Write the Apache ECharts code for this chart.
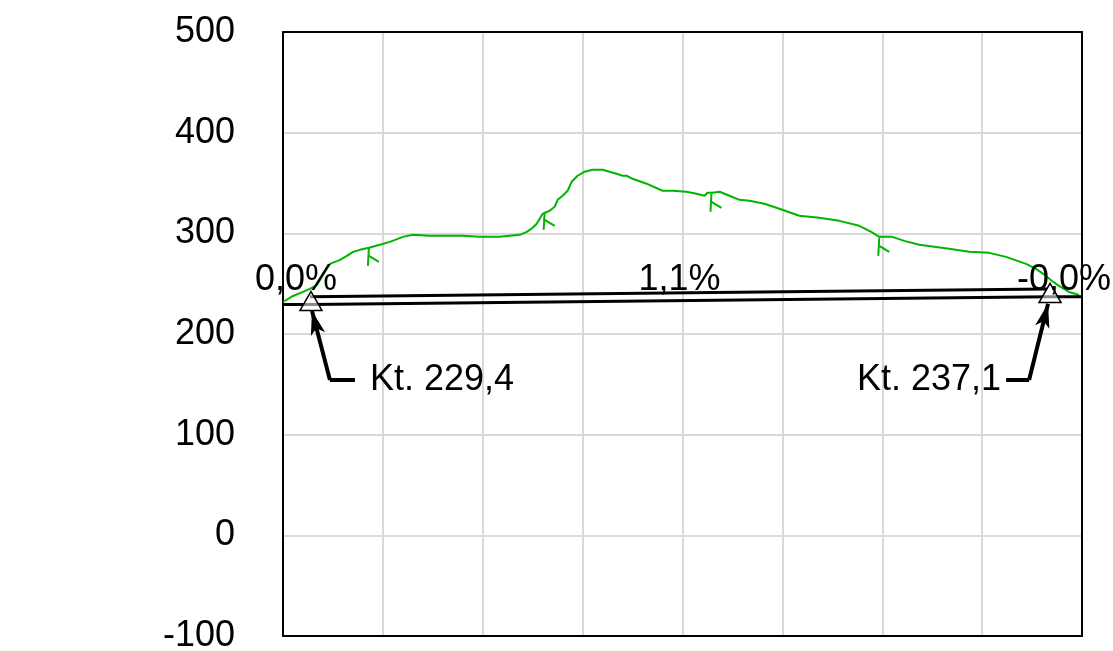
<!DOCTYPE html>
<html>
<head>
<meta charset="utf-8">
<script src="https://cdn.jsdelivr.net/npm/echarts@6/dist/echarts.min.js"></script>
<style>
html,body{margin:0;padding:0;background:#fff;}
#chart{width:1113px;height:651px;}
</style>
</head>
<body>
<div id="chart"></div>
<script>
// ---- data ----
const yTicks = [-100, 0, 100, 200, 300, 400, 500];
const terrain = [
  [0,231.8],[10,237.8],[20,241.8],[27,244.8],[34,248.8],[47,269.7],[57,273.6],[64,277.6],
  [70,281.6],[77,283.6],[86,285.6],[97,288.6],[107,291.5],[120,296.5],[130,298.5],[147,297.5],
  [164,297.5],[180,297.5],[197,296.5],[210,296.5],[217,296.5],[227,297.5],[237,298.5],[244,301.5],
  [250,305.5],[254,309.5],[260,319.4],[267,322.4],[272,326.4],[275,333.3],[280,337.3],[285,342.3],
  [289,351.2],[295,357.2],[302,361.2],[310,363.2],[320,363.2],[327,361.2],[334,359.2],[340,357.2],
  [344,357.2],[350,354.2],[364,349.3],[380,342.3],[390,342.3],[404,341.3],[414,339.3],[422,337.3],
  [425,340.3],[430,340.3],[437,341.3],[447,337.3],[457,333.3],[467,332.3],[482,329.4],[497,324.4],
  [517,317.4],[537,315.4],[557,312.4],[577,307.5],[589,301.5],[597,296.5],[610,296.5],[622,292.5],
  [637,288.6],[667,284.6],[687,281.6],[707,280.6],[724,276.6],[744,269.7],[754,264.7],[764,257.7],
  [770,252.7],[777,247.8],[787,241.8],[797,238.8]
];
const treeMarks = [[86,285.6],[262,321.4],[429,339.3],[597,295.5]];
const roadLower = [[0,229.4],[28,229.4],[768,237.1],[800,237.1]];
const roadUpper = [[27,237.0],[765,244.6]];
const stations = [[28,232.8],[768,240.8]];
const gradeLabels = ['0,0%', '1,1%', '-0,0%'];
const gradeLabelPos = [[13,254],[397,254],[782,254]];
const levelLabels = ['Kt. 229,4', 'Kt. 237,1'];
const leftArrow = [[72,154.2],[47,154.2],[29,223]];
const rightArrow = [[724,154.2],[747,154.2],[766,230]];

const GREEN = '#00b400';
const FONT = 'Liberation Sans, Arial, sans-serif';

function arrowLines(pts){
  return [
    [{coord: pts[0], symbol:'none'}, {coord: pts[1], symbol:'none'}],
    [{coord: pts[1], symbol:'none'}, {coord: pts[2], symbol:'arrow', symbolSize:[11,24]}]
  ];
}

const borderAxis = {show: true, onZero: false, lineStyle: {color: '#000', width: 2}};
const gridLine = {show: true, lineStyle: {color: '#d9d9d9', width: 2}};

const chart = echarts.init(document.getElementById('chart'), null, {renderer:'canvas'});
chart.setOption({
  animation: false,
  backgroundColor: '#fff',
  grid: {left: 283, top: 32, right: 31, bottom: 15, containLabel: false, outerBoundsMode: 'none'},
  xAxis: [
    {
      type: 'value', min: 0, max: 800, interval: 100, position: 'bottom',
      axisLabel: {show: false}, axisTick: {show: false},
      axisLine: borderAxis, splitLine: gridLine
    },
    {
      type: 'value', min: 0, max: 800, interval: 100, position: 'top',
      axisLabel: {show: false}, axisTick: {show: false},
      axisLine: borderAxis, splitLine: {show: false}
    }
  ],
  yAxis: [
    {
      type: 'value', min: yTicks[0], max: yTicks[yTicks.length-1], interval: 100, position: 'left',
      axisLabel: {color: '#000', fontSize: 36, fontFamily: FONT, margin: 48},
      axisTick: {show: false}, axisLine: borderAxis, splitLine: gridLine
    },
    {
      type: 'value', min: yTicks[0], max: yTicks[yTicks.length-1], interval: 100, position: 'right',
      axisLabel: {show: false}, axisTick: {show: false},
      axisLine: borderAxis, splitLine: {show: false}
    }
  ],
  series: [
    {
      type: 'line', data: terrain, symbol: 'none', z: 3,
      lineStyle: {color: GREEN, width: 2}
    },
    {
      type: 'custom', data: treeMarks, z: 3,
      renderItem: function(params, api){
        const p = api.coord([api.value(0), api.value(1)]);
        const st = {stroke: GREEN, lineWidth: 2, fill: null};
        return {type: 'group', children: [
          {type: 'line', shape: {x1: p[0], y1: p[1], x2: p[0]-1, y2: p[1]+18}, style: st},
          {type: 'line', shape: {x1: p[0], y1: p[1]+8, x2: p[0]+10, y2: p[1]+14}, style: st}
        ]};
      }
    },
    {
      type: 'line', data: roadLower, symbol: 'none', z: 4,
      lineStyle: {color: '#000', width: 3}
    },
    {
      type: 'line', data: roadUpper, symbol: 'none', z: 4,
      lineStyle: {color: '#000', width: 3}
    },
    {
      type: 'scatter', data: stations, symbol: 'triangle', symbolSize: [22, 19], z: 6,
      itemStyle: {color: 'rgba(255,255,255,0.55)', borderColor: '#000', borderWidth: 1.5, opacity: 1}
    },
    {
      type: 'line', data: [], z: 5,
      markLine: {
        silent: true, symbol: ['none','none'], label: {show: false},
        lineStyle: {color: '#000', width: 4, type: 'solid'},
        data: arrowLines(leftArrow).concat(arrowLines(rightArrow))
      }
    },
    {
      type: 'scatter', symbolSize: 0, z: 7, itemStyle: {opacity: 1},
      data: gradeLabelPos.map((p, i) => ({value: p, name: gradeLabels[i]})),
      label: {show: true, position: 'inside', formatter: '{b}', color: '#000', fontSize: 36, fontFamily: FONT}
    },
    {
      type: 'scatter', symbolSize: 0, z: 7, itemStyle: {opacity: 1},
      data: [
        {value: leftArrow[0], name: levelLabels[0], label: {position: 'right', distance: 15}},
        {value: rightArrow[0], name: levelLabels[1], label: {position: 'left', distance: 5}}
      ],
      label: {show: true, formatter: '{b}', color: '#000', fontSize: 36, fontFamily: FONT}
    }
  ]
});
</script>
</body>
</html>
